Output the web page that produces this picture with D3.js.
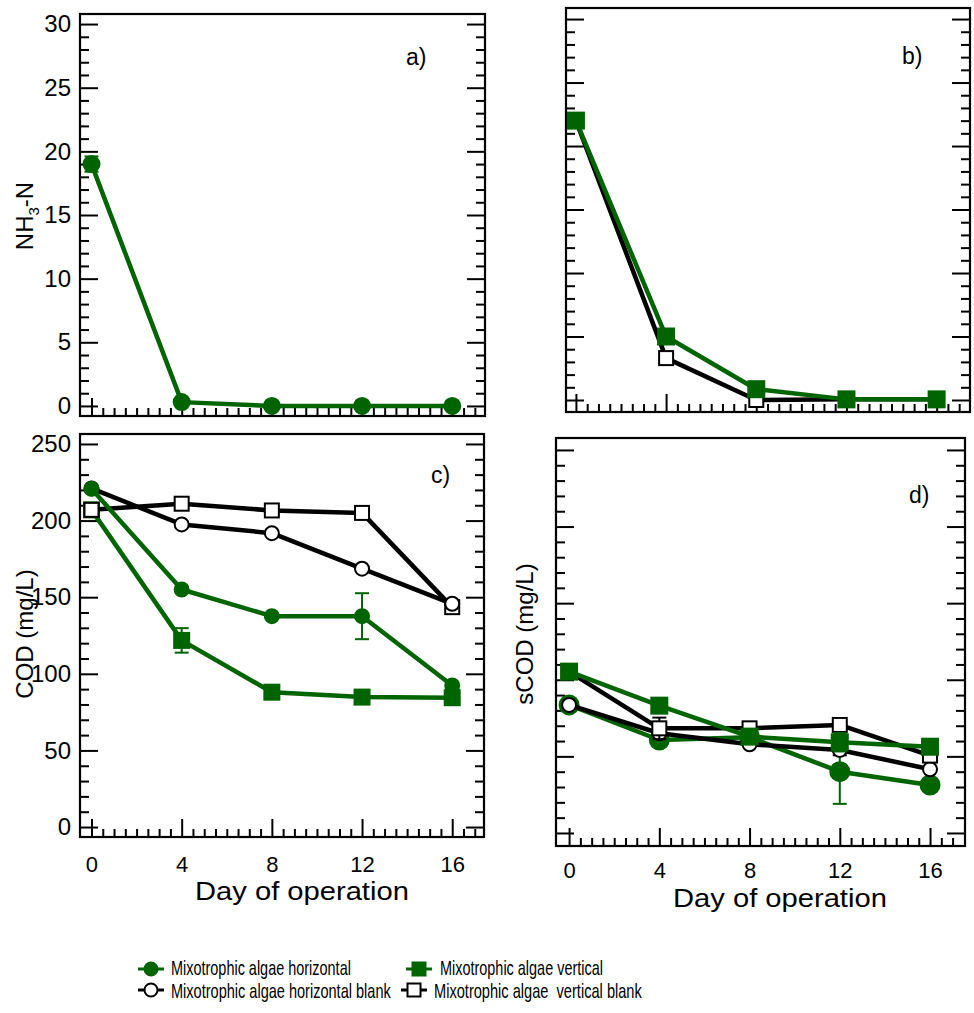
<!DOCTYPE html>
<html>
<head>
<meta charset="utf-8">
<script src="https://cdn.jsdelivr.net/npm/d3@7"></script>
<style>
  body { margin: 0; background: #fff; }
  svg { display: block; }
  text { font-family: "Liberation Sans", Arial, sans-serif; fill: #000; }
</style>
</head>
<body>
<div id="chart"></div>
<script>
const days = [0, 4, 8, 12, 16];
const seriesNames = ["Mixotrophic algae horizontal", "Mixotrophic algae vertical",
                     "Mixotrophic algae horizontal blank", "Mixotrophic algae  vertical blank"];

// a) NH3-N, horizontal
const nh3Horizontal = [19.0, 0.3, 0.0, 0.0, 0.0];
const nh3HorizontalErr = [0.6, 0, 0, 0, 0];
// b) NH3-N, vertical
const nh3Vertical = [22.0, 5.0, 0.85, 0.05, 0.05];
const nh3VerticalBlank = [22.0, 3.3, 0.0, 0.05, 0.05];
// c) COD (mg/L)
const codHorizontal = [220.7, 155.0, 137.6, 137.6, 92.4];
const codHorizontalErr = [0, 0, 0, 15, 0];
const codVertical = [207.0, 121.8, 88.0, 84.8, 84.4];
const codVerticalErr = [0, 8, 0, 0, 0];
const codHorizontalBlank = [221.0, 197.5, 191.8, 168.6, 145.7];
const codVerticalBlank = [207.0, 211.0, 206.6, 205.0, 143.5];
// d) sCOD (mg/L)
const scodHorizontal = [83.6, 60.7, 62.5, 40.0, 31.3];
const scodHorizontalErr = [0, 0, 0, 21, 0];
const scodVertical = [105.3, 83.1, 62.9, 59.2, 56.3];
const scodVerticalErr = [0, 0, 0, 6, 0];
const scodHorizontalBlank = [83.6, 65.1, 57.9, 54.2, 41.6];
const scodHorizontalBlankErr = [0, 0, 0, 3.5, 0];
const scodVerticalBlank = [105.3, 68.3, 68.3, 70.5, 50.5];
const scodVerticalBlankErr = [0, 7, 0, 0, 0];

const xMajor = [0, 4, 8, 12, 16];
const nh3Major = [0, 5, 10, 15, 20, 25, 30];
const codMajor = [0, 50, 100, 150, 200, 250];

const green = "#006400";
const width = 974, height = 1013;

const svg = d3.select("#chart").append("svg")
    .attr("width", width)
    .attr("height", height);

// styles for each series
const styles = {
    H:  { color: green, fill: green, shape: "circle" },
    V:  { color: green, fill: green, shape: "square" },
    HB: { color: "#000", fill: "#fff", shape: "circle" },
    VB: { color: "#000", fill: "#fff", shape: "square" }
};

// squeeze a text horizontally to a wanted width
function fitText(sel, x, y, w) {
    const natural = sel.node().getComputedTextLength();
    sel.attr("transform", `translate(${x},${y}) scale(${w / natural},1)`);
}

function drawPanel(cfg) {
    const g = svg.append("g");
    const [bx0, by0, bx1, by1] = cfg.box;
    const x = d3.scaleLinear().domain(cfg.xDom).range([bx0, bx1]);
    const y = d3.scaleLinear().domain(cfg.yDom).range([by1, by0]);

    const yMinor = d3.range(0, cfg.yMajor[cfg.yMajor.length - 1] + 0.001, cfg.yMinorStep)
        .filter(v => !cfg.yMajor.includes(v));
    const xMinor = d3.range(0.5, 17.01, 0.5).filter(v => !xMajor.includes(v));

    const axes = [
        { axis: d3.axisLeft(y).tickValues(yMinor).tickSize(-9).tickFormat(""), tr: `translate(${bx0},0)` },
        { axis: d3.axisLeft(y).tickValues(cfg.yMajor).tickSize(-18).tickPadding(9)
            .tickFormat(cfg.yLabels ? d3.format("d") : ""), tr: `translate(${bx0},0)`, fs: 24 },
        { axis: d3.axisRight(y).tickValues(yMinor).tickSize(-9).tickFormat(""), tr: `translate(${bx1},0)` },
        { axis: d3.axisRight(y).tickValues(cfg.yMajor).tickSize(-18).tickFormat(""), tr: `translate(${bx1},0)` },
        { axis: d3.axisBottom(x).tickValues(xMinor).tickSize(-8).tickFormat(""), tr: `translate(0,${by1})` },
        { axis: d3.axisBottom(x).tickValues(xMajor).tickSize(-18).tickPadding(cfg.xPad || 18)
            .tickFormat(cfg.xLabels ? d3.format("d") : ""), tr: `translate(0,${by1})`, fs: 22 }
    ];
    axes.forEach(a => {
        const ag = g.append("g").attr("transform", a.tr).call(a.axis);
        ag.select(".domain").remove();
        ag.selectAll("line").attr("stroke", "#000").attr("stroke-width", 2);
        ag.selectAll("text").attr("font-size", a.fs || 20)
            .attr("font-family", "Liberation Sans, Arial, sans-serif").attr("fill", "#000");
    });

    // frame
    g.append("rect")
        .attr("x", bx0).attr("y", by0)
        .attr("width", bx1 - bx0).attr("height", by1 - by0)
        .attr("fill", "none").attr("stroke", "#000").attr("stroke-width", 2.2);

    const line = d3.line().x(d => x(d.day)).y(d => y(d.v));

    cfg.series.forEach(s => {
        const st = styles[s.key];
        const pts = days.map((day, i) => ({ day, v: s.values[i], e: s.err ? s.err[i] : 0 }));
        const sg = g.append("g");
        sg.append("path").datum(pts)
            .attr("d", line)
            .attr("fill", "none")
            .attr("stroke", st.color)
            .attr("stroke-width", 4.5)
            .attr("stroke-linejoin", "round");
        pts.filter(p => p.e > 0).forEach(p => {
            const cx = x(p.day), t = y(p.v + p.e), b = y(p.v - p.e);
            sg.append("line").attr("x1", cx).attr("x2", cx).attr("y1", t).attr("y2", b)
                .attr("stroke", st.color).attr("stroke-width", 2);
            [t, b].forEach(yy => sg.append("line")
                .attr("x1", cx - 7).attr("x2", cx + 7).attr("y1", yy).attr("y2", yy)
                .attr("stroke", st.color).attr("stroke-width", 2));
        });
        const r = s.size / 2;
        if (st.shape === "circle") {
            sg.selectAll("circle").data(pts).enter().append("circle")
                .attr("cx", d => x(d.day)).attr("cy", d => y(d.v)).attr("r", r)
                .attr("fill", st.fill).attr("stroke", st.color).attr("stroke-width", 2);
        } else {
            sg.selectAll("rect").data(pts).enter().append("rect")
                .attr("x", d => x(d.day) - r).attr("y", d => y(d.v) - r)
                .attr("width", s.size).attr("height", s.size)
                .attr("fill", st.fill).attr("stroke", st.color).attr("stroke-width", 2);
        }
    });

    // panel letter
    g.append("text").attr("x", cfg.letterPos[0]).attr("y", cfg.letterPos[1])
        .attr("font-size", 23).text(cfg.letter);

    // y label
    if (cfg.yTitle) {
        const t = g.append("text")
            .attr("transform", `translate(${cfg.yTitlePos[0]},${cfg.yTitlePos[1]}) rotate(-90)`)
            .attr("text-anchor", "middle")
            .attr("font-size", 24);
        cfg.yTitle(t);
    }
    // x label
    if (cfg.xTitlePos) {
        const t = g.append("text")
            .attr("font-size", 26)
            .text("Day of operation");
        fitText(t, cfg.xTitlePos[0], cfg.xTitlePos[1], 214);
    }
}

// a)
drawPanel({
    box: [80, 14, 485, 416], xDom: [-0.51, 17.45], yDom: [-0.79, 30.79],
    yMajor: nh3Major, yMinorStep: 1, yLabels: true, xLabels: false,
    letter: "a)", letterPos: [406, 65],
    yTitlePos: [33, 216],
    yTitle: t => {
        t.append("tspan").text("NH");
        t.append("tspan").attr("font-size", 15).attr("dy", 6).text("3");
        t.append("tspan").attr("dy", -6).text("-N");
    },
    series: [
        { key: "H", values: nh3Horizontal, err: nh3HorizontalErr, size: 16 }
    ]
});

// b)
drawPanel({
    box: [566, 8, 970, 412], xDom: [-0.44, 17.48], yDom: [-0.945, 30.87],
    yMajor: nh3Major, yMinorStep: 1, yLabels: false, xLabels: false,
    letter: "b)", letterPos: [902, 64],
    series: [
        { key: "VB", values: nh3VerticalBlank, size: 14 },
        { key: "V", values: nh3Vertical, size: 16 }
    ]
});

// c)
drawPanel({
    box: [80, 434, 484, 837], xDom: [-0.51, 17.41], yDom: [-6.5, 256.5],
    yMajor: codMajor, yMinorStep: 10, yLabels: true, xLabels: true, xPad: 19,
    letter: "c)", letterPos: [431, 483],
    yTitlePos: [33, 634],
    yTitle: t => t.text("COD (mg/L)"),
    xTitlePos: [195, 900],
    series: [
        { key: "V", values: codVertical, err: codVerticalErr, size: 15 },
        { key: "VB", values: codVerticalBlank, size: 14 },
        { key: "HB", values: codHorizontalBlank, size: 14 },
        { key: "H", values: codHorizontal, err: codHorizontalErr, size: 14 }
    ]
});

// d)
drawPanel({
    box: [556, 438, 965, 846], xDom: [-0.58, 17.55], yDom: [-8.5, 257.8],
    yMajor: codMajor, yMinorStep: 10, yLabels: false, xLabels: true, xPad: 16,
    letter: "d)", letterPos: [909, 503],
    yTitlePos: [533, 634],
    yTitle: t => t.text("sCOD (mg/L)"),
    xTitlePos: [673, 907],
    series: [
        { key: "H", values: scodHorizontal, err: scodHorizontalErr, size: 19 },
        { key: "HB", values: scodHorizontalBlank, err: scodHorizontalBlankErr, size: 14 },
        { key: "VB", values: scodVerticalBlank, err: scodVerticalBlankErr, size: 14 },
        { key: "V", values: scodVertical, err: scodVerticalErr, size: 16 }
    ]
});

// legend
const legendKeys = ["H", "V", "HB", "VB"];
const legendPos = [[151, 969, 171, 975, 180], [419, 969, 440, 975, 163],
                   [151, 990, 171, 998, 220], [414, 990, 434, 998, 208]];
const legend = svg.append("g");
legendKeys.forEach((k, i) => {
    const st = styles[k];
    const [cx, cy, tx, ty, tl] = legendPos[i];
    legend.append("line").attr("x1", cx - 13).attr("x2", cx + 13).attr("y1", cy).attr("y2", cy)
        .attr("stroke", st.color).attr("stroke-width", 3);
    if (st.shape === "circle") {
        legend.append("circle").attr("cx", cx).attr("cy", cy).attr("r", 6.5)
            .attr("fill", st.fill).attr("stroke", st.color).attr("stroke-width", 2);
    } else {
        legend.append("rect").attr("x", cx - 6.5).attr("y", cy - 6.5).attr("width", 13).attr("height", 13)
            .attr("fill", st.fill).attr("stroke", st.color).attr("stroke-width", 2);
    }
    const t = legend.append("text")
        .attr("font-size", 20)
        .style("white-space", "pre")
        .text(seriesNames[i]);
    fitText(t, tx, ty, tl);
});
</script>
</body>
</html>
